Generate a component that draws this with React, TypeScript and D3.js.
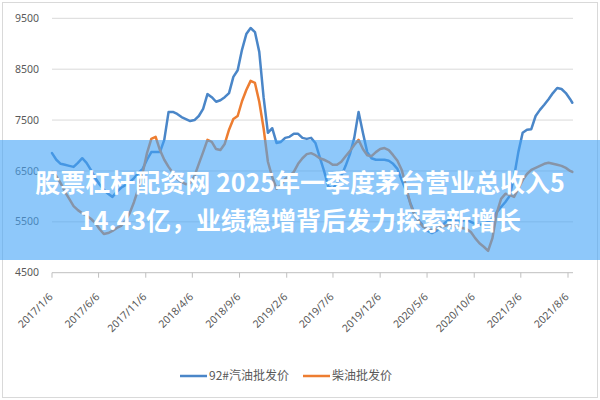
import React from "react";
import * as d3 from "d3";

const dates = [
  "2017-01-06","2017-01-20","2017-02-03","2017-02-17","2017-03-03","2017-03-17","2017-03-31","2017-04-14","2017-04-28","2017-05-12","2017-05-26","2017-06-09","2017-06-23","2017-07-07","2017-07-21","2017-08-04","2017-08-18","2017-09-01","2017-09-15","2017-09-29","2017-10-13","2017-10-27","2017-11-10","2017-11-24","2017-12-08","2017-12-22",
  "2018-01-05","2018-01-19","2018-02-02","2018-02-16","2018-03-02","2018-03-16","2018-03-30","2018-04-13","2018-04-27","2018-05-11","2018-05-25","2018-06-08","2018-06-22","2018-07-06","2018-07-20","2018-08-03","2018-08-17","2018-08-31","2018-09-14","2018-09-28","2018-10-12","2018-10-26","2018-11-09","2018-11-23","2018-12-07","2018-12-21",
  "2019-01-04","2019-01-18","2019-02-01","2019-02-15","2019-03-01","2019-03-15","2019-03-29","2019-04-12","2019-04-26","2019-05-10","2019-05-24","2019-06-07","2019-06-21","2019-07-05","2019-07-19","2019-08-02","2019-08-16","2019-08-30","2019-09-13","2019-09-27","2019-10-11","2019-10-25","2019-11-08","2019-11-22","2019-12-06","2019-12-20",
  "2020-01-03","2020-01-17","2020-01-31","2020-02-14","2020-02-28","2020-03-13","2020-03-27","2020-04-10","2020-04-24","2020-05-08","2020-05-22","2020-06-05","2020-06-19","2020-07-03","2020-07-17","2020-07-31","2020-08-14","2020-08-28","2020-09-11","2020-09-25","2020-10-09","2020-10-23","2020-11-06","2020-11-20","2020-12-04","2020-12-18",
  "2021-01-01","2021-01-15","2021-01-29","2021-02-12","2021-02-26","2021-03-12","2021-03-26","2021-04-09","2021-04-23","2021-05-07","2021-05-21","2021-06-04","2021-06-18","2021-07-02","2021-07-16","2021-07-30","2021-08-13","2021-08-20"
];

const gasoline = [
  6850,6720,6640,6620,6600,6580,6660,6750,6660,6520,6360,6240,6130,6050,5990,6090,6170,6220,6280,6360,6460,6540,6720,6870,6870,6870,
  7110,7660,7660,7620,7560,7520,7480,7500,7580,7720,8010,7950,7860,7890,7950,8030,8350,8480,8880,9190,9310,9230,8840,7950,7250,7340,
  7050,7070,7150,7170,7230,7230,7150,7130,7150,7050,6770,6500,6190,6150,6260,6400,6600,6830,7150,7660,7250,6870,6750,6720,6720,6720,
  6700,6640,6540,6320,6110,5870,5650,5520,5420,5320,5280,5320,5400,5480,5540,5520,5500,5520,5540,5500,5460,5440,5460,5500,5560,5690,
  5790,5890,6010,6380,6870,7250,7310,7320,7580,7700,7800,7910,8030,8130,8110,8030,7910,7840
];

const diesel = [
  6480,6400,6260,6090,5950,5810,5730,5670,5620,5560,5480,5360,5260,5280,5320,5380,5420,5520,5670,5890,6150,6460,6850,7130,7170,6910,
  6720,6580,6460,6340,6280,6240,6260,6400,6640,6870,7110,7070,6930,6910,7030,7310,7520,7580,7870,8090,8270,8230,7860,7340,6680,6380,
  6150,6220,6340,6400,6480,6640,6750,6830,6850,6810,6750,6720,6680,6620,6620,6680,6790,6890,7010,7110,6930,6810,6790,6870,6930,6950,
  6910,6810,6700,6520,6190,5850,5620,5500,5400,5360,5340,5360,5400,5420,5440,5420,5400,5380,5360,5300,5180,5080,5010,4930,5180,5670,
  5950,6050,6030,5990,6150,6320,6440,6520,6560,6600,6640,6660,6640,6620,6600,6560,6500,6480
];

const yTicks = [4500, 5500, 6500, 7500, 8500, 9500];
const xTickLabels = [
  "2017/1/6","2017/6/6","2017/11/6","2018/4/6","2018/9/6","2019/2/6",
  "2019/7/6","2019/12/6","2020/5/6","2020/10/6","2021/3/6","2021/8/6"
];
const seriesNames = ["92#汽油批发价", "柴油批发价"];
const seriesColors = ["#4a86c8", "#ed7d31"];
const titleLines = ["股票杠杆配资网 2025年一季度茅台营业总收入5", "14.43亿，业绩稳增背后发力探索新增长"];

function parseDash(s: string) {
  const [y, m, d] = s.split("-").map(Number);
  return new Date(y, m - 1, d);
}
function parseSlash(s: string) {
  const [y, m, d] = s.split("/").map(Number);
  return new Date(y, m - 1, d);
}

export default function App() {
  const W = 600, H = 400;
  const x = d3.scaleTime()
    .domain([parseSlash(xTickLabels[0]), parseSlash(xTickLabels[xTickLabels.length - 1])])
    .range([52, 568]);
  const y = d3.scaleLinear().domain([4500, 9500]).range([272.7, 18.3]);
  const xs = dates.map(parseDash);
  const line = d3.line<number>()
    .x((_, i) => x(xs[i]))
    .y((v) => y(v));
  const series = [gasoline, diesel];
  const labelFont = "'Noto Sans', 'DejaVu Sans', sans-serif";
  const cjkFont = "'Noto Sans CJK SC', 'Noto Sans', sans-serif";

  return (
    <svg width={W} height={H} style={{ position: "absolute", left: 0, top: 0, background: "#fff" }}>
      <rect x={0} y={0} width={W} height={H} fill="#fff" />
      <rect x={2.5} y={2.5} width={595} height={395} fill="none" stroke="#d9d9d9" strokeWidth={1} />
      {yTicks.map((t) => (
        <g key={t}>
          <line x1={52} x2={573} y1={y(t)} y2={y(t)} stroke={t === 4500 ? "#bfbfbf" : "#d9d9d9"} strokeWidth={1} />
          <text x={39} y={y(t)} dy="0.35em" textAnchor="end" fontSize={10.5} fill="#595959" fontFamily={labelFont}>{t}</text>
        </g>
      ))}
      {xTickLabels.map((s) => {
        const tx = x(parseSlash(s));
        return (
          <g key={s}>
            <line x1={tx} x2={tx} y1={y(4500)} y2={y(4500) + 5} stroke="#bfbfbf" />
            <text transform={`translate(${tx - 1},${295}) rotate(-45)`} dy="0.35em" textAnchor="end" fontSize={10.5} fill="#595959" fontFamily={labelFont}>{s}</text>
          </g>
        );
      })}
      {series.map((s, k) => (
        <path key={k} d={line(s) || ""} fill="none" stroke={seriesColors[k]} strokeWidth={2.5} strokeLinejoin="round" strokeLinecap="round" />
      ))}
      <g>
        {[0, 1].map((k) => {
          const lx = k === 0 ? 180 : 303;
          return (
            <g key={k}>
              <line x1={lx} x2={lx + 27} y1={376} y2={376} stroke={seriesColors[k]} strokeWidth={2.5} />
              <text x={lx + 29} y={376} dy="0.35em" fontSize={12} fill="#595959" fontFamily={cjkFont}>{seriesNames[k]}</text>
            </g>
          );
        })}
      </g>
      <rect x={0} y={140} width={W} height={120} fill="rgb(67,163,247)" fillOpacity={0.6} />
      {titleLines.map((t, i) => (
        <text key={i} x={300} y={183 + i * 38} dy="0.35em" textAnchor="middle" fontSize={25} fontWeight="bold" fill="#fff" fontFamily={cjkFont}>{t}</text>
      ))}
    </svg>
  );
}
